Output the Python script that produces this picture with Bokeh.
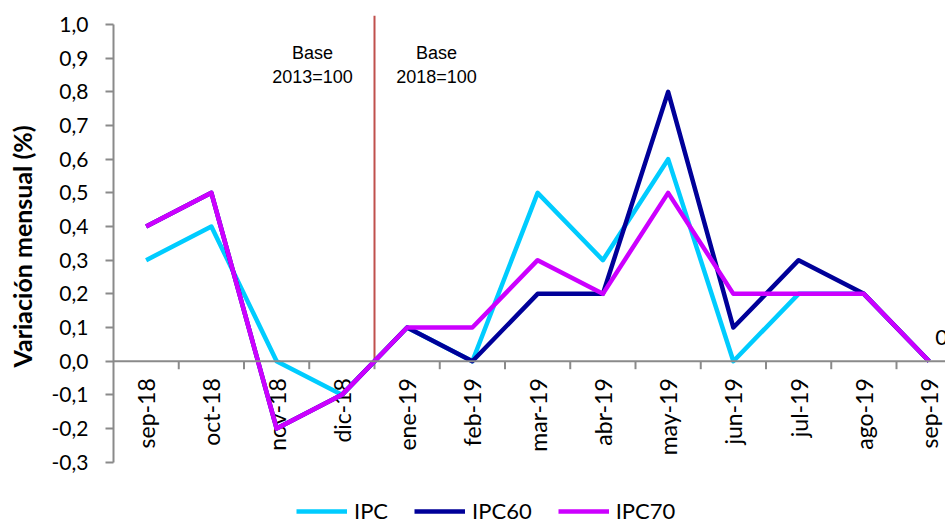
import math
from bokeh.plotting import figure
from bokeh.models import (FixedTicker, Span, Legend, LegendItem, Range1d, Title,
                          CustomJSTickFormatter)
from bokeh.core.properties import value
from bokeh.embed import file_html
from bokeh.resources import INLINE

# ---------------- data ----------------
months = ["sep-18", "oct-18", "nov-18", "dic-18", "ene-19", "feb-19", "mar-19",
          "abr-19", "may-19", "jun-19", "jul-19", "ago-19", "sep-19"]
ipc = [0.3, 0.4, 0.0, -0.1, 0.1, 0.0, 0.5, 0.3, 0.6, 0.0, 0.2, 0.2, 0.0]
ipc60 = [0.4, 0.5, -0.2, -0.1, 0.1, 0.0, 0.2, 0.2, 0.8, 0.1, 0.3, 0.2, 0.0]
ipc70 = [0.4, 0.5, -0.2, -0.1, 0.1, 0.1, 0.3, 0.2, 0.5, 0.2, 0.2, 0.2, 0.0]
series_names = ["IPC", "IPC60", "IPC70"]
y_ticks = [-0.3, -0.2, -0.1, 0.0, 0.1, 0.2, 0.3, 0.4, 0.5, 0.6, 0.7, 0.8, 0.9, 1.0]
y_title = "Variación mensual (%)"
base_old = ["Base", "2013=100"]
base_new = ["Base", "2018=100"]
base_change_after = "dic-18"
last_label = "0,0"

# ---------------- layout ----------------
W, H = 945, 525
FRAME_LEFT = 113
TOP = 15
frame_h = H - TOP
px_per_unit = 336.7
cat_px = 65.25
y_top = 1.0 + 9 / px_per_unit
y_bot = y_top - frame_h / px_per_unit
x_end = 0.5 + (W - FRAME_LEFT) / cat_px

xs = list(range(1, len(months) + 1))
bounds_x = [x + 0.5 for x in xs[:-1]]
brk = xs[months.index(base_change_after)] + 0.5

p = figure(width=W, height=H, output_backend="svg", toolbar_location=None,
           x_range=Range1d(0.5, x_end), y_range=Range1d(y_bot, y_top),
           x_axis_location=None, title=None,
           min_border_left=FRAME_LEFT, min_border_right=0,
           min_border_top=TOP, min_border_bottom=0)
p.outline_line_color = None
p.grid.visible = False
p.background_fill_color = "white"
p.border_fill_color = "white"

GRAY = "#8a8a8a"
FONT = "Lato"

# y axis
ya = p.yaxis[0]
ya.ticker = FixedTicker(ticks=y_ticks, minor_ticks=[])
ya.bounds = (min(y_ticks), max(y_ticks))
ya.formatter = CustomJSTickFormatter(code="return tick.toFixed(1).replace('.', ',');")
ya.axis_line_color = GRAY
ya.axis_line_width = 2
ya.major_tick_line_color = GRAY
ya.major_tick_line_width = 2
ya.major_tick_out = 8
ya.major_tick_in = 0
ya.minor_tick_line_color = None
ya.major_label_standoff = 17
ya.major_label_text_font = FONT
ya.major_label_text_font_size = "21px"
ya.major_label_text_color = "black"
# thin spacer so the title below sits a little further left
ya.axis_label = " "
ya.axis_label_text_font_size = "1px"
ya.axis_label_standoff = 6

# y title, positioned along the axis extent (start of text near the 0,0 level)
p.add_layout(Title(text=y_title, align="left", offset=158, vertical_align="bottom",
                   standoff=4,
                   text_font=FONT, text_font_style="bold",
                   text_font_size="25px", text_color="black"), "left")

# x axis at zero
p.add_layout(Span(location=0, dimension="width", line_color=GRAY, line_width=2))
p.ray(x=bounds_x, y=[0] * len(bounds_x), length=8, length_units="screen",
      angle=-math.pi / 2, line_color=GRAY, line_width=2)
p.text(x=xs, y=[0] * len(xs), text=months, angle=math.pi / 2,
       text_align="right", text_baseline="middle", y_offset=17,
       text_font=value(FONT), text_font_size="23px", text_color="black")

# base change line and labels
p.segment(x0=[brk], y0=[0], x1=[brk], y1=[y_top], line_color="#C0504D", line_width=2)
for lbl, dx in ((base_old, -62), (base_new, 62)):
    for i, t in enumerate(lbl):
        p.text(x=[brk], y=[max(y_ticks)], text=[t], x_offset=dx, y_offset=28 + 24 * i,
               text_align="center", text_baseline="middle",
               text_font=value("Liberation Sans"), text_font_size="18px",
               text_color="black")

# series
colors = ["#00CCFF", "#000099", "#CC00FF"]
renderers = []
for ys, c in zip([ipc, ipc60, ipc70], colors):
    r = p.line(xs, ys, line_color=c, line_width=4.5, line_join="round")
    renderers.append(r)

# data label of the last point (cut by the chart edge, as in the original)
p.text(x=[xs[-1]], y=[ipc70[-1]], text=[last_label], x_offset=6, y_offset=-24,
       text_align="left", text_baseline="middle",
       text_font=value(FONT), text_font_size="22px", text_color="black")

legend = Legend(items=[LegendItem(label=n, renderers=[r]) for n, r in zip(series_names, renderers)],
                location=(183, 1), orientation="horizontal",
                glyph_width=51, glyph_height=20, label_standoff=7, spacing=26,
                padding=0, margin=0, border_line_color=None, background_fill_alpha=0,
                label_text_font=FONT, label_text_font_size="22px",
                label_text_color="black")
p.add_layout(legend)

open("out.html", "w").write(file_html(p, INLINE))
